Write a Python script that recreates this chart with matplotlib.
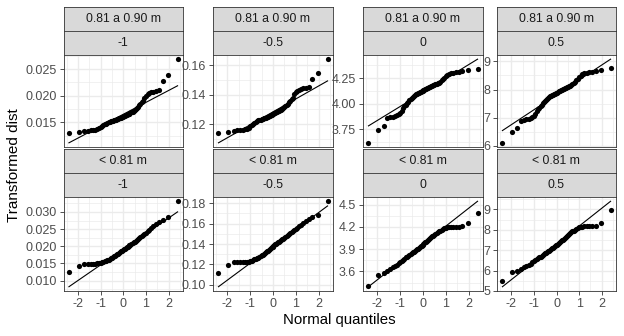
import statistics
import numpy as np
import matplotlib
matplotlib.use("Agg")
import matplotlib.pyplot as plt

plt.rcParams['font.family'] = ['Liberation Sans', 'DejaVu Sans']

# Sorted distances (same data shown under each power)
dist_mid = [37.2, 42.0, 44.0, 47.5, 47.7, 48.1, 48.4, 48.9, 49.4, 49.9,
            50.9, 52.5, 53.3, 54.1, 54.9, 55.7, 56.3, 57.1, 57.7, 58.3,
            58.9, 59.3, 59.7, 60.2, 60.3, 60.7, 61.1, 61.4, 61.7, 62.0,
            62.3, 62.6, 62.9, 63.2, 63.5, 63.9, 64.2, 64.5, 64.8, 65.1,
            65.4, 65.7, 66.0, 66.3, 66.6, 67.0, 67.7, 68.5, 69.3, 70.2,
            71.2, 72.2, 73.0, 73.6, 73.9, 74.1, 74.4, 75.0, 75.6, 76.6]
dist_low = [30.2, 35.1, 36.0, 37.0, 37.9, 38.7, 39.5, 40.2, 41.1, 41.8,
            42.4, 43.0, 43.6, 44.2, 44.7, 45.2, 45.8, 46.3, 46.8, 47.3,
            47.8, 48.3, 48.8, 49.3, 49.8, 50.3, 50.8, 51.3, 51.8, 52.4,
            52.9, 53.5, 54.1, 54.7, 55.3, 56.0, 56.6, 57.3, 58.0, 58.7,
            59.4, 60.2, 60.8, 61.5, 62.2, 62.8, 63.4, 64.1, 64.7, 65.4,
            65.9, 66.3, 66.6, 66.8, 66.9, 67.0, 67.0, 67.2, 69.9, 80.6]

group_labels = ['0.81 a 0.90 m', '< 0.81 m']
lambdas = [-1, -0.5, 0, 0.5]
lambda_labels = ['-1', '-0.5', '0', '0.5']

x_ticks = [-2, -1, 0, 1, 2]
x_ticklabels = ['-2', '-1', '0', '1', '2']

y_ticks_mid = [[0.015, 0.020, 0.025], [0.12, 0.14, 0.16],
               [3.75, 4.00, 4.25], [6, 7, 8, 9]]
y_labels_mid = [['0.015', '0.020', '0.025'], ['0.12', '0.14', '0.16'],
                ['3.75', '4.00', '4.25'], ['6', '7', '8', '9']]
y_ticks_low = [[0.010, 0.015, 0.020, 0.025, 0.030], [0.10, 0.12, 0.14, 0.16, 0.18],
               [3.6, 3.9, 4.2, 4.5], [5, 6, 7, 8, 9]]
y_labels_low = [['0.010', '0.015', '0.020', '0.025', '0.030'],
                ['0.10', '0.12', '0.14', '0.16', '0.18'],
                ['3.6', '3.9', '4.2', '4.5'], ['5', '6', '7', '8', '9']]

# Layout (pixels, top-left origin)
W, H = 624, 336
COLS = [(63.5, 183), (213, 333), (363, 483), (497, 616)]
ROWS = [dict(strip=7, panel=(55, 147)), dict(strip=149, panel=(197, 291))]
STRIP_H = 24
BORDER = '#333333'
GRID = '#EBEBEB'


def box(x0, y0, x1, y1):
    return [x0 / W, 1 - y1 / H, (x1 - x0) / W, (y1 - y0) / H]


def transform(x, lam):
    x = np.asarray(x, dtype=float)
    return np.log(x) if lam == 0 else x ** lam


def theo_quantiles(n):
    nd = statistics.NormalDist()
    return np.array([nd.inv_cdf((i - 0.5) / n) for i in range(1, n + 1)])


def minor_between(ticks, lo, hi):
    t = np.asarray(ticks, dtype=float)
    step = t[1] - t[0]
    cand = np.concatenate([[t[0] - step / 2], (t[:-1] + t[1:]) / 2, [t[-1] + step / 2]])
    return [c for c in cand if lo <= c <= hi]


fig = plt.figure(figsize=(W / 100, H / 100), dpi=100)

datasets = [dist_mid, dist_low]
yticks_all = [y_ticks_mid, y_ticks_low]
ylabels_all = [y_labels_mid, y_labels_low]
nd = statistics.NormalDist()

for r, row in enumerate(ROWS):
    for c, (x0, x1) in enumerate(COLS):
        y = np.sort(transform(datasets[r], lambdas[c]))
        q = theo_quantiles(len(y))
        # qq line through the quartiles
        y1q, y3q = np.quantile(y, [0.25, 0.75])
        z1, z3 = nd.inv_cdf(0.25), nd.inv_cdf(0.75)
        slope = (y3q - y1q) / (z3 - z1)
        inter = y1q - slope * z1
        lx = np.array([q.min(), q.max()])
        ly = inter + slope * lx

        # two stacked strips
        for k, lab in enumerate([group_labels[r], lambda_labels[c]]):
            top = row['strip'] + k * STRIP_H
            sax = fig.add_axes(box(x0, top, x1, top + STRIP_H))
            sax.set_facecolor('#D9D9D9')
            sax.set_xticks([])
            sax.set_yticks([])
            for s in sax.spines.values():
                s.set_color(BORDER)
                s.set_linewidth(0.6)
            sax.text(0.5, 0.5, lab, ha='center', va='center',
                     fontsize=8.8, color='#1A1A1A', transform=sax.transAxes)

        p0, p1 = row['panel']
        ax = fig.add_axes(box(x0, p0, x1, p1))
        ax.set_facecolor('white')
        allv = np.concatenate([y, ly])
        lo, hi = allv.min(), allv.max()
        pad = 0.05 * (hi - lo)
        ax.set_ylim(lo - pad, hi + pad)
        xr = q.max() - q.min()
        ax.set_xlim(q.min() - 0.05 * xr, q.max() + 0.05 * xr)

        yt = yticks_all[r][c]
        ylo, yhi = ax.get_ylim()
        xlo, xhi = ax.get_xlim()
        for m in minor_between(yt, ylo, yhi):
            ax.axhline(m, color=GRID, lw=0.5, zorder=0)
        for m in minor_between(x_ticks, xlo, xhi):
            ax.axvline(m, color=GRID, lw=0.5, zorder=0)
        for t in yt:
            ax.axhline(t, color=GRID, lw=1.0, zorder=0)
        for t in x_ticks:
            ax.axvline(t, color=GRID, lw=1.0, zorder=0)

        ax.plot(lx, ly, color='black', lw=0.8, zorder=2)
        ax.scatter(q, y, s=14, color='black', linewidths=0, zorder=3)

        ax.set_yticks(yt)
        ax.set_yticklabels(ylabels_all[r][c])
        ax.tick_params(axis='y', length=3, width=0.6, color=BORDER, pad=2,
                       labelsize=9, labelcolor='#4D4D4D')
        if r == 1:
            ax.set_xticks(x_ticks)
            ax.set_xticklabels(x_ticklabels)
            ax.tick_params(axis='x', length=3, width=0.6, color=BORDER, pad=2,
                           labelsize=9, labelcolor='#4D4D4D')
        else:
            ax.set_xticks([])
        for s in ax.spines.values():
            s.set_color(BORDER)
            s.set_linewidth(0.6)

fig.text(14 / W, 1 - 165 / H, 'Transformed dist', rotation=90,
         ha='center', va='center', fontsize=11, color='black')
fig.text(339.5 / W, 1 - 320 / H, 'Normal quantiles',
         ha='center', va='center', fontsize=10.8, color='black')

fig.savefig('out.png', dpi=100, facecolor='white')
